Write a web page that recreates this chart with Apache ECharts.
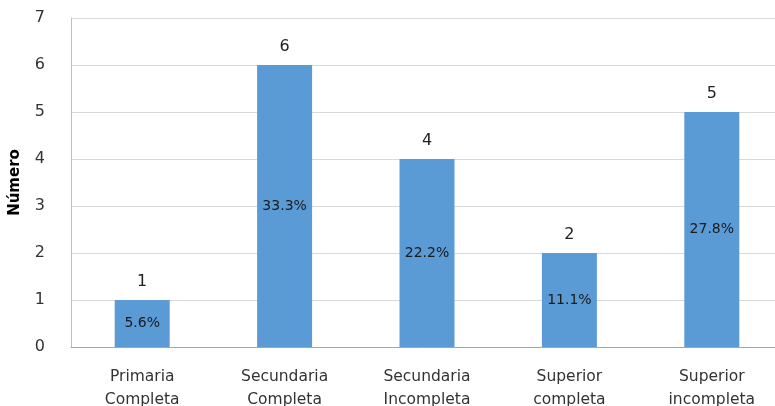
<!DOCTYPE html>
<html>
<head>
<meta charset="utf-8">
<script src="https://cdn.jsdelivr.net/npm/echarts@6/dist/echarts.min.js"></script>
<style>html,body{margin:0;padding:0;background:#fff;}#c{width:775px;height:406px;}</style>
</head>
<body>
<div id="c"></div>
<script>
const categories = ["Primaria\nCompleta", "Secundaria\nCompleta", "Secundaria\nIncompleta", "Superior\ncompleta", "Superior\nincompleta"];
const counts = [1, 6, 4, 2, 5];
const percents = ["5.6%", "33.3%", "22.2%", "11.1%", "27.8%"];
const yTicks = [0, 1, 2, 3, 4, 5, 6, 7];

const chart = echarts.init(document.getElementById('c'), null, {renderer: 'canvas'});
const font = '"DejaVu Sans", "Liberation Sans", sans-serif';
chart.setOption({
  animation: false,
  grid: {left: 71, top: 18, width: 712, height: 329, containLabel: false, outerBoundsMode: 'none'},
  xAxis: {
    type: 'category',
    data: categories,
    axisTick: {show: false},
    axisLine: {lineStyle: {color: '#A6A6A6', width: 1}},
    axisLabel: {color: '#333', fontFamily: font, fontSize: 15.5, lineHeight: 23, margin: 18, interval: 0}
  },
  yAxis: {
    type: 'value',
    min: yTicks[0], max: yTicks[yTicks.length - 1], interval: 1,
    name: 'Número',
    nameLocation: 'middle',
    nameGap: 48,
    nameTextStyle: {fontFamily: font, fontSize: 15, fontWeight: 'bold', color: '#000'},
    axisLine: {show: true, lineStyle: {color: '#BFBFBF'}},
    axisTick: {show: false},
    splitLine: {lineStyle: {color: '#D9D9D9'}},
    axisLabel: {color: '#333', fontFamily: font, fontSize: 16, margin: 26}
  },
  series: [
    {
      type: 'bar',
      data: counts,
      barWidth: 55,
      itemStyle: {color: '#5B9BD5'},
      label: {show: true, position: 'top', distance: 10, color: '#222', fontFamily: font, fontSize: 16}
    },
    {
      type: 'bar',
      data: counts,
      barWidth: 55,
      barGap: '-100%',
      itemStyle: {color: 'rgba(0,0,0,0)'},
      label: {
        show: true, position: 'inside', color: '#1a1a1a', fontFamily: font, fontSize: 14,
        formatter: p => percents[p.dataIndex]
      }
    }
  ]
});
</script>
</body>
</html>
